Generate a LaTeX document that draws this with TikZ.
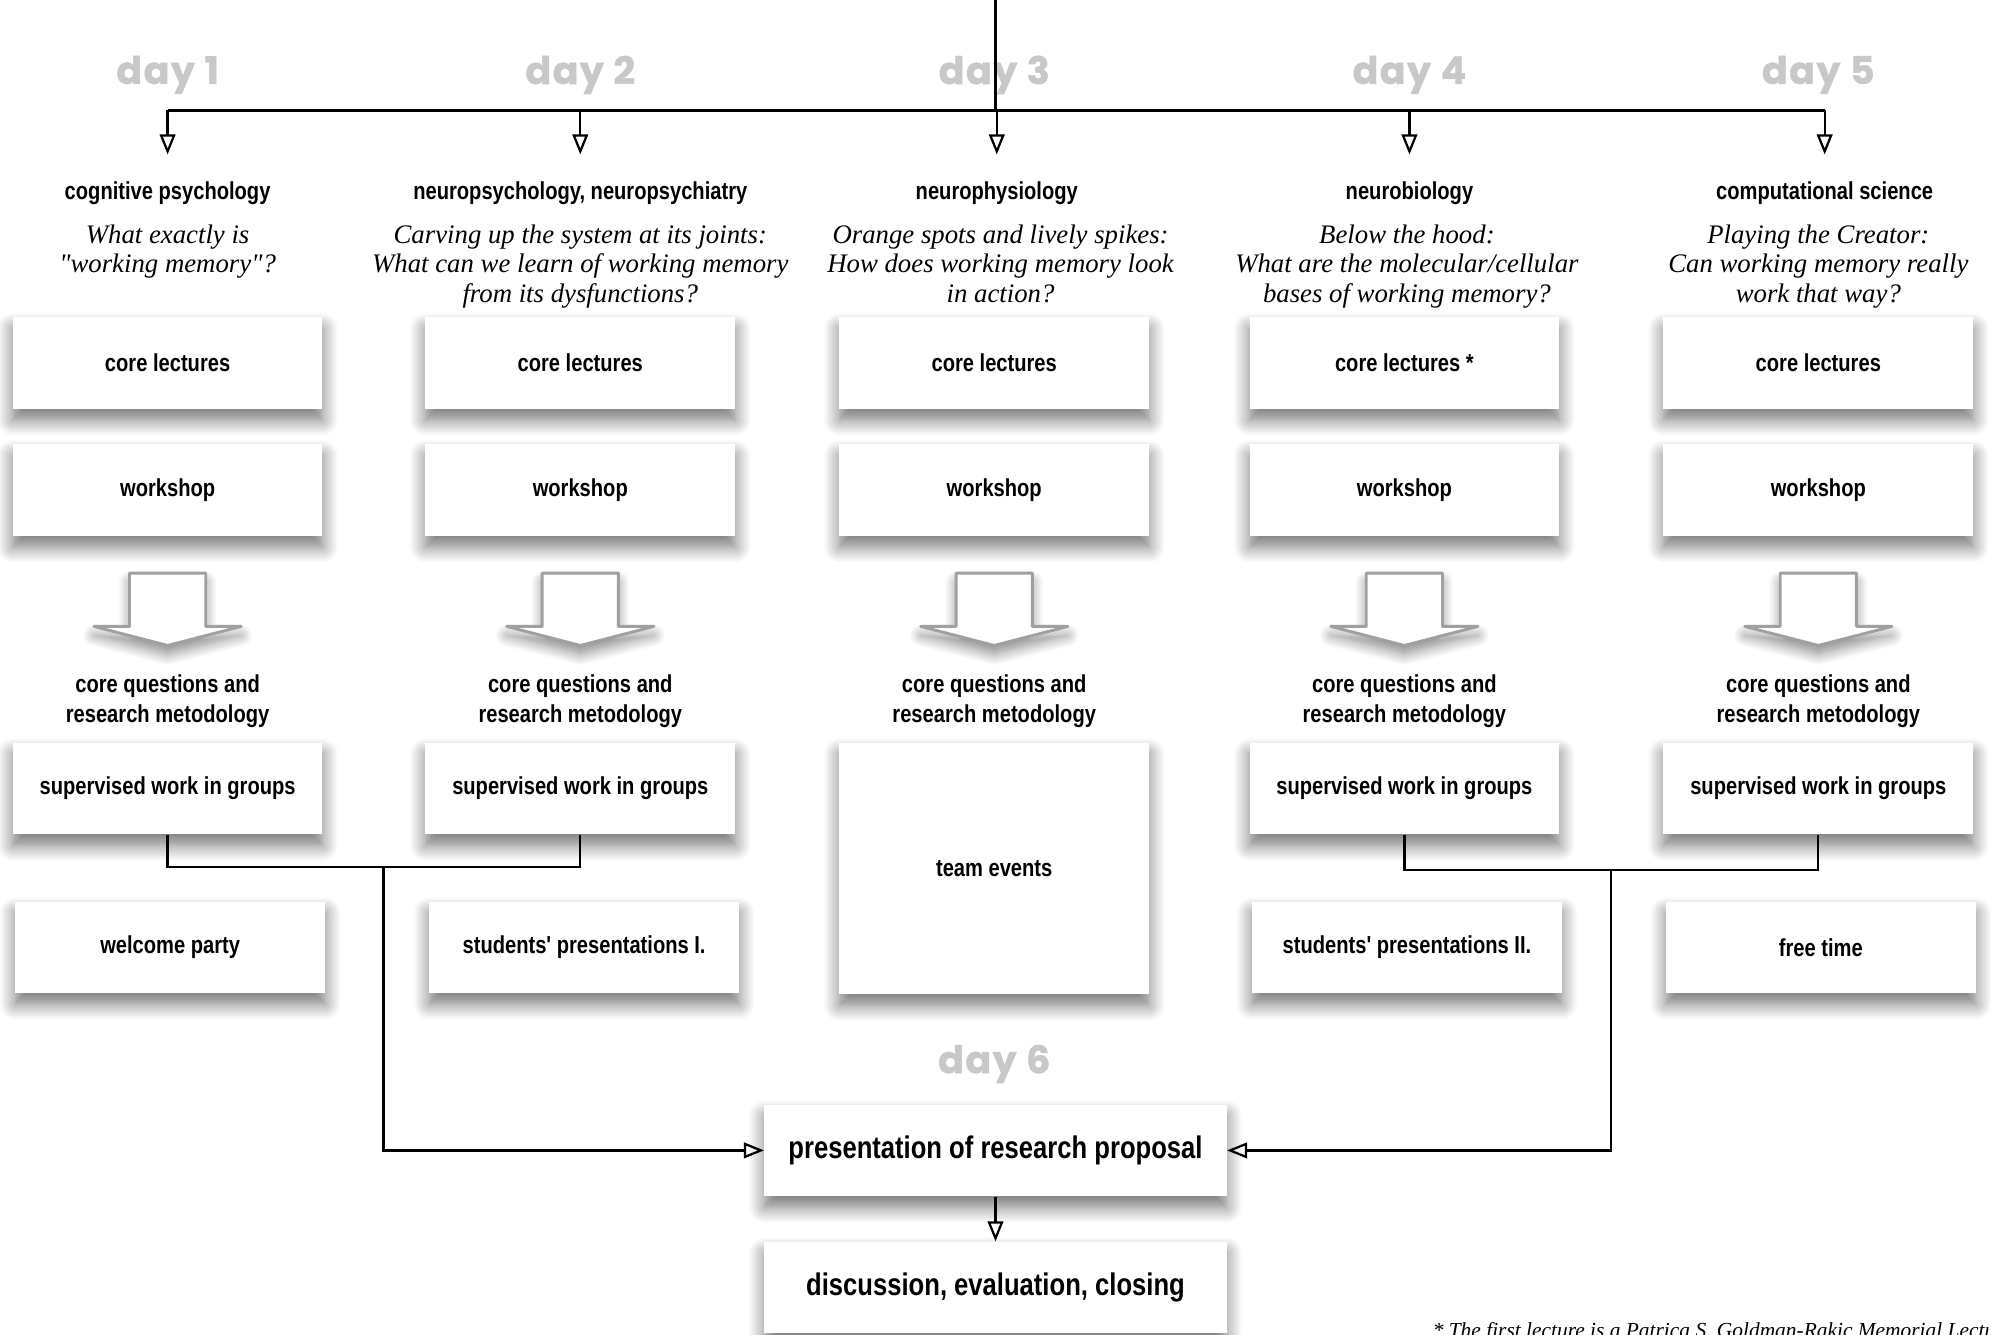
\documentclass[tikz,border=0pt]{standalone}
\usepackage{fontspec}
\newfontfamily\boxfont[FakeStretch=0.82]{Liberation Sans}
\newfontfamily\askfont{Liberation Serif}
\newfontfamily\dayfont[FakeBold=1.2, LetterSpace=4]{Poppins}
\usetikzlibrary{arrows.meta,calc,positioning,shadows.blur}
\definecolor{daygray}{RGB}{200,200,200}
\definecolor{arrowgray}{RGB}{160,160,160}

\begin{document}
\begin{tikzpicture}[x=0.02cm, y=-0.02cm, node distance=2cm,
  box/.style={rectangle, fill=white, minimum width=4.88cm, minimum height=1.44cm, inner sep=0,
    font=\boxfont\bfseries\fontsize{11}{13}\selectfont,
    blur shadow={shadow xshift=0pt, shadow yshift=-5pt, shadow blur radius=7pt, shadow blur steps=10, shadow opacity=55}},
  day/.style={font=\dayfont\bfseries\fontsize{17}{20}\selectfont, text=daygray},
  topic/.style={minimum height=1.2cm, inner sep=0, font=\boxfont\bfseries\fontsize{11}{13}\selectfont},
  method/.style={align=center, inner sep=0, font=\boxfont\bfseries\fontsize{11}{13.6}\selectfont},
  ask/.style={align=center, anchor=north, inner sep=0, font=\askfont\itshape\fontsize{12}{13.1}\selectfont},
  note/.style={inner sep=0, font=\askfont\itshape\fontsize{9.6}{10}\selectfont},
  bigarrow/.style={draw=arrowgray, line width=1.3pt, fill=white, line join=round,
    blur shadow={shadow xshift=0pt, shadow yshift=-4pt, shadow blur radius=5pt, shadow blur steps=10, shadow opacity=45}},
  link/.style={line width=1pt},
  flow/.style={line width=1pt, -{Triangle[open, length=9pt, width=7pt]}}]

  \useasboundingbox (0,0) rectangle (1568,1051);
  \clip (0,0) rectangle (1568,1051);

  % days
  \node (day1) [day] at (132,59) {day 1};
  \node (day2) [day] at (457,59) {day 2};
  \node (day3) [day] at (783,59) {day 3};
  \node (day4) [day] at (1110,59) {day 4};
  \node (day5) [day] at (1432,59) {day 5};
  \node (day6) [day] at (783,838) {day 6};

  % topics and questions
  \node (topic1) [topic] at (132,152) {cognitive psychology};
  \node (topic2) [topic] at (457,152) {neuropsychology, neuropsychiatry};
  \node (topic3) [topic] at (785,152) {neurophysiology};
  \node (topic4) [topic] at (1110,152) {neurobiology};
  \node (topic5) [topic] at (1437,152) {computational science};
  \node (ask1) [ask] at (132,177) {What exactly is\\"working memory"?};
  \node (ask2) [ask] at (457,177) {Carving up the system at its joints:\\What can we learn of working memory\\from its dysfunctions?};
  \node (ask3) [ask] at (788,177) {Orange spots and lively spikes:\\How does working memory look\\in action?};
  \node (ask4) [ask] at (1108,177) {Below the hood:\\What are the molecular/cellular\\bases of working memory?};
  \node (ask5) [ask] at (1432,177) {Playing the Creator:\\Can working memory really\\work that way?};

  % lectures and workshops
  \node (cl1) [box] at (132,286) {core lectures};
  \node (cl2) [box] at (457,286) {core lectures};
  \node (cl3) [box] at (783,286) {core lectures};
  \node (cl4) [box] at (1106,286) {core lectures *};
  \node (cl5) [box] at (1432,286) {core lectures};
  \node (ws1) [box, below of=cl1] {workshop};
  \node (ws2) [box, below of=cl2] {workshop};
  \node (ws3) [box, below of=cl3] {workshop};
  \node (ws4) [box, below of=cl4] {workshop};
  \node (ws5) [box, below of=cl5] {workshop};

  \draw[bigarrow] ($(ws1.south)+(-30,29)$) -- ++(60,0) -- ++(0,42) -- ++(28,0) -- ++(-58,15) -- ++(-58,-15) -- ++(28,0) -- cycle;
  \draw[bigarrow] ($(ws2.south)+(-30,29)$) -- ++(60,0) -- ++(0,42) -- ++(28,0) -- ++(-58,15) -- ++(-58,-15) -- ++(28,0) -- cycle;
  \draw[bigarrow] ($(ws3.south)+(-30,29)$) -- ++(60,0) -- ++(0,42) -- ++(28,0) -- ++(-58,15) -- ++(-58,-15) -- ++(28,0) -- cycle;
  \draw[bigarrow] ($(ws4.south)+(-30,29)$) -- ++(60,0) -- ++(0,42) -- ++(28,0) -- ++(-58,15) -- ++(-58,-15) -- ++(28,0) -- cycle;
  \draw[bigarrow] ($(ws5.south)+(-30,29)$) -- ++(60,0) -- ++(0,42) -- ++(28,0) -- ++(-58,15) -- ++(-58,-15) -- ++(28,0) -- cycle;

  % afternoons
  \node (cq1) [method] at (132,552) {core questions and\\research metodology};
  \node (cq2) [method] at (457,552) {core questions and\\research metodology};
  \node (cq3) [method] at (783,552) {core questions and\\research metodology};
  \node (cq4) [method] at (1106,552) {core questions and\\research metodology};
  \node (cq5) [method] at (1432,552) {core questions and\\research metodology};
  \node (sup1) [box] at (132,621) {supervised work in groups};
  \node (sup2) [box] at (457,621) {supervised work in groups};
  \node (team) [box, minimum height=3.96cm] at (783,684) {team events};
  \node (sup4) [box] at (1106,621) {supervised work in groups};
  \node (sup5) [box] at (1432,621) {supervised work in groups};

  % evenings
  \node (party) [box] at (134,746) {welcome party};
  \node (talks1) [box] at (460,746) {students' presentations I.};
  \node (talks2) [box] at (1108,746) {students' presentations II.};
  \node (free) [box] at (1434,746) {free time};

  % last day
  \node (prop) [box, minimum width=7.28cm, font=\boxfont\bfseries\fontsize{14}{16}\selectfont] at (784,906) {presentation of research proposal};
  \node (disc) [box, minimum width=7.28cm, font=\boxfont\bfseries\fontsize{14}{16}\selectfont] at (784,1014) {discussion, evaluation, closing};
  \node (note) [note, anchor=base west] at (1128,1053) {* The first lecture is a Patrica S. Goldman-Rakic Memorial Lecture};

  % connections
  \coordinate (top) at (784,0);
  \coordinate (bus) at (784,87);
  \coordinate (joinL) at (302,683);
  \coordinate (joinR) at (1269,685);
  \draw[link] (top) -- (bus);
  \draw[link] (topic1 |- bus) -- (topic5 |- bus);
  \draw[flow] (topic1 |- bus) -- (topic1);
  \draw[flow] (topic2 |- bus) -- (topic2);
  \draw[flow] (topic3 |- bus) -- (topic3);
  \draw[flow] (topic4 |- bus) -- (topic4);
  \draw[flow] (topic5 |- bus) -- (topic5);
  \draw[link] (sup1) |- (joinL) -| (sup2);
  \draw[flow] (joinL) |- (prop);
  \draw[link] (sup4) |- (joinR) -| (sup5);
  \draw[flow] (joinR) |- (prop);
  \draw[flow] (prop) -- (disc);
\end{tikzpicture}
\end{document}
